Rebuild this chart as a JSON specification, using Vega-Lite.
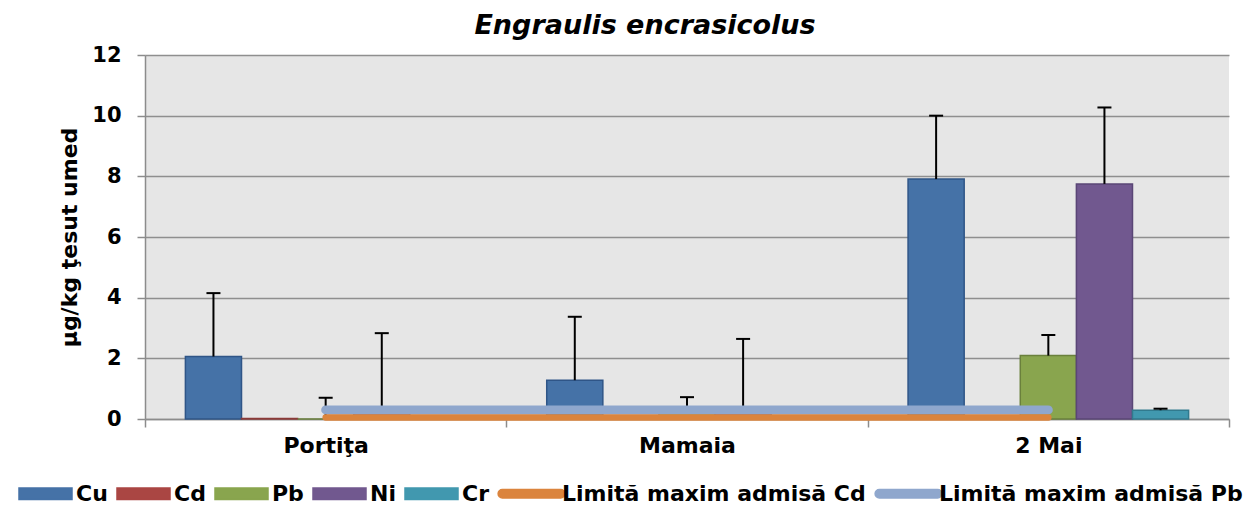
{
  "$schema": "https://vega.github.io/schema/vega-lite/v6.json",
  "autosize": {"type": "none"},
  "width": 1084,
  "height": 364,
  "padding": {"left": 145, "top": 55, "right": 30, "bottom": 112},
  "background": "white",
  "title": {
    "text": "Engraulis encrasicolus",
    "font": "DejaVu Sans",
    "fontSize": 27,
    "fontStyle": "italic",
    "fontWeight": "bold",
    "color": "black",
    "anchor": "middle",
    "frame": "group",
    "dx": -42,
    "offset": 4
  },
  "config": {
    "view": {"fill": "#e6e6e6", "stroke": null},
    "axis": {
      "labelFont": "DejaVu Sans",
      "labelFontWeight": "bold",
      "labelColor": "black",
      "titleFont": "DejaVu Sans",
      "titleFontWeight": "bold",
      "titleColor": "black",
      "domainColor": "#8c8c8c",
      "domainWidth": 1.5,
      "tickColor": "#8c8c8c",
      "tickWidth": 1.5,
      "tickSize": 8
    }
  },
  "datasets": {
    "metals": [
      {"site": "Portiţa", "metal": "Cu", "value": 2.06, "upper": 4.15},
      {"site": "Portiţa", "metal": "Cd", "value": 0.02, "upper": null},
      {"site": "Portiţa", "metal": "Pb", "value": 0.0, "upper": 0.7},
      {"site": "Portiţa", "metal": "Ni", "value": 0.2, "upper": 2.83},
      {"site": "Portiţa", "metal": "Cr", "value": 0.05, "upper": null},
      {"site": "Mamaia", "metal": "Cu", "value": 1.28, "upper": 3.37},
      {"site": "Mamaia", "metal": "Cd", "value": 0.01, "upper": null},
      {"site": "Mamaia", "metal": "Pb", "value": 0.2, "upper": 0.72},
      {"site": "Mamaia", "metal": "Ni", "value": 0.2, "upper": 2.64},
      {"site": "Mamaia", "metal": "Cr", "value": 0.05, "upper": null},
      {"site": "2 Mai", "metal": "Cu", "value": 7.91, "upper": 10.0},
      {"site": "2 Mai", "metal": "Cd", "value": 0.01, "upper": null},
      {"site": "2 Mai", "metal": "Pb", "value": 2.09, "upper": 2.77},
      {"site": "2 Mai", "metal": "Ni", "value": 7.75, "upper": 10.27},
      {"site": "2 Mai", "metal": "Cr", "value": 0.29, "upper": 0.34}
    ],
    "limits": [
      {"site": "Portiţa", "series": "Limită maxim admisă Cd", "limit": 0.05},
      {"site": "Mamaia", "series": "Limită maxim admisă Cd", "limit": 0.05},
      {"site": "2 Mai", "series": "Limită maxim admisă Cd", "limit": 0.05},
      {"site": "Portiţa", "series": "Limită maxim admisă Pb", "limit": 0.3},
      {"site": "Mamaia", "series": "Limită maxim admisă Pb", "limit": 0.3},
      {"site": "2 Mai", "series": "Limită maxim admisă Pb", "limit": 0.3}
    ]
  },
  "layer": [
    {
      "data": {"name": "metals"},
      "mark": {"type": "bar", "strokeWidth": 1.5},
      "encoding": {
        "x": {
          "field": "site", "type": "nominal",
          "sort": ["Portiţa", "Mamaia", "2 Mai"],
          "scale": {"paddingInner": 0, "paddingOuter": 0},
          "axis": {
            "title": null, "labelAngle": 0, "labelFontSize": 22,
            "labelPadding": 8, "tickBand": "extent", "grid": false
          }
        },
        "xOffset": {
          "field": "metal", "type": "nominal",
          "sort": ["Cu", "Cd", "Pb", "Ni", "Cr"],
          "scale": {"paddingInner": 0, "paddingOuter": 0.72}
        },
        "y": {
          "field": "value", "type": "quantitative",
          "scale": {"domain": [0, 12], "nice": false},
          "axis": {
            "title": "µg/kg ţesut umed", "titleFontSize": 22, "titlePadding": 10,
            "labelFontSize": 21, "labelPadding": 16,
            "values": [0, 2, 4, 6, 8, 10, 12],
            "grid": true, "gridColor": "#8f8f8f", "gridWidth": 1.5
          }
        },
        "color": {
          "field": "metal", "type": "nominal",
          "scale": {
            "domain": ["Cu", "Cd", "Pb", "Ni", "Cr", "Limită maxim admisă Cd", "Limită maxim admisă Pb"],
            "range": ["#4572A7", "#AA4643", "#89A54E", "#71588F", "#4198AF", "#DB843D", "#8FA7CD"]
          },
          "legend": {
            "title": null,
            "orient": "none",
            "direction": "horizontal",
            "legendX": -127,
            "legendY": 411,
            "padding": 0,
            "columnPadding": 6,
            "labelFont": "DejaVu Sans",
            "labelFontWeight": "bold",
            "labelFontSize": 22,
            "labelColor": "black",
            "labelOffset": 3,
            "labelLimit": 0,
            "symbolSize": 2809,
            "symbolStrokeWidth": 1.5,
            "encode": {
              "symbols": {
                "update": {
                  "shape": {"signal": "indexof(['Limită maxim admisă Cd','Limită maxim admisă Pb'], datum.value) >= 0 ? 'M-1.1,-0.16H1.1A0.16,0.16 0 0 1 1.1,0.16H-1.1A0.16,0.16 0 0 1 -1.1,-0.16Z' : 'M-1,-0.22H1V0.22H-1Z'"},
                  "fill": {"scale": "color", "field": "value"},
                  "stroke": {"signal": "{'Cu':'#2f5587','Cd':'#8a3a38','Pb':'#6a803c','Ni':'#5a4676','Cr':'#317a8e','Limită maxim admisă Cd':'#DB843D','Limită maxim admisă Pb':'#8FA7CD'}[datum.value]"},
                  "strokeWidth": {"value": 1.5},
                  "opacity": {"value": 1}
                }
              }
            }
          }
        },
        "stroke": {
          "field": "metal", "type": "nominal",
          "scale": {
            "domain": ["Cu", "Cd", "Pb", "Ni", "Cr"],
            "range": ["#2f5587", "#8a3a38", "#6a803c", "#5a4676", "#317a8e"]
          },
          "legend": null
        }
      }
    },
    {
      "data": {"name": "metals"},
      "transform": [{"filter": "datum.upper != null"}],
      "mark": {"type": "rule", "color": "black", "strokeWidth": 2},
      "encoding": {
        "x": {"field": "site", "type": "nominal", "sort": ["Portiţa", "Mamaia", "2 Mai"]},
        "xOffset": {"field": "metal", "type": "nominal", "sort": ["Cu", "Cd", "Pb", "Ni", "Cr"]},
        "y": {"field": "value", "type": "quantitative"},
        "y2": {"field": "upper"}
      }
    },
    {
      "data": {"name": "metals"},
      "transform": [{"filter": "datum.upper != null"}],
      "mark": {"type": "tick", "color": "black", "thickness": 2, "size": 14, "opacity": 1},
      "encoding": {
        "x": {"field": "site", "type": "nominal", "sort": ["Portiţa", "Mamaia", "2 Mai"]},
        "xOffset": {"field": "metal", "type": "nominal", "sort": ["Cu", "Cd", "Pb", "Ni", "Cr"]},
        "y": {"field": "upper", "type": "quantitative"}
      }
    },
    {
      "data": {"name": "limits"},
      "transform": [{"filter": "datum.series == 'Limită maxim admisă Pb'"}],
      "mark": {"type": "line", "strokeWidth": 9, "strokeCap": "round"},
      "encoding": {
        "x": {"field": "site", "type": "nominal", "sort": ["Portiţa", "Mamaia", "2 Mai"], "bandPosition": 0.5},
        "y": {"field": "limit", "type": "quantitative"},
        "color": {"field": "series", "type": "nominal"}
      }
    },
    {
      "data": {"name": "limits"},
      "transform": [{"filter": "datum.series == 'Limită maxim admisă Cd'"}],
      "mark": {"type": "line", "strokeWidth": 6.5, "strokeCap": "round"},
      "encoding": {
        "x": {"field": "site", "type": "nominal", "sort": ["Portiţa", "Mamaia", "2 Mai"], "bandPosition": 0.5},
        "y": {"field": "limit", "type": "quantitative"},
        "color": {"field": "series", "type": "nominal"}
      }
    }
  ]
}
